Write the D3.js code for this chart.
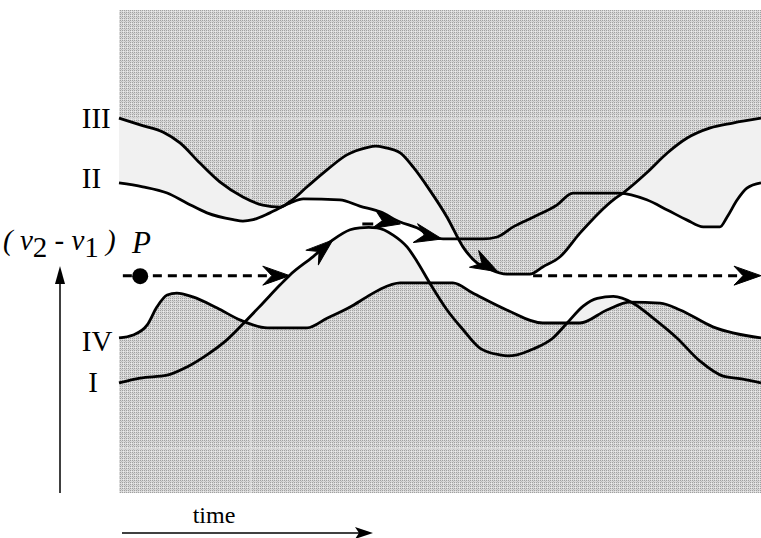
<html>
<head>
<script src="https://d3js.org/d3.v7.min.js"></script>
<style>
  body { margin: 0; background: white; }
  text { font-family: "Liberation Serif", "Times New Roman", serif; fill: black; }
</style>
</head>
<body>
<svg width="761" height="538"></svg>
<script>
// curves: t = time (0..100), v = (v2 - v1) level (0..100)
var t_III = [0,3.3,6.9,9.5,12.6,15.7,19.3,22.4,25.1,26.6,29.3,32.4,35.5,38.6,40.0,41.4,43.8,45.8,48.4,51.1,53.6,55.8,57.3,60.4,64.0,66.0,68.7,71.8,77.0,78.5,82.2,85.4,88.5,92.1,95.6,100];
var v_III = [77.6,76.2,74.7,72.5,68.3,64.4,61.3,59.6,59.2,60.3,63.4,66.9,70.0,71.5,71.8,71.5,70.4,67.5,62.7,57.1,50.9,47.6,46.6,45.3,45.3,46.8,48.9,53.8,60.7,62.1,66.3,70.4,73.5,75.6,76.6,77.6];

var t_II = [0,3.7,7.5,10.6,13.7,17.8,19.3,20.9,23.5,26.6,28.7,34.4,37.5,40.7,43.8,46.4,48.9,50.5,56.7,58.9,61.4,64.5,68.2,70.7,78.0,82.2,85.4,88.5,91.0,93.6,94.7,96.3,97.8,100];
var v_II = [64.2,63.4,62.1,60.0,58.0,56.6,56.3,56.6,58.0,60.0,60.9,60.7,59.4,58.2,56.1,54.9,53.0,52.6,52.6,53.0,55.1,57.1,59.6,62.1,62.1,60.7,58.6,56.5,55.1,55.1,57.1,60.7,63.1,64.2];

var t_I = [0,3.3,7.5,10.6,13.7,16.8,19.6,22.4,25.1,26.6,30.2,33.3,36.0,37.5,38.9,40.2,42.7,44.9,46.4,48.4,51.1,53.6,56.2,59.3,60.6,62.0,64.5,67.6,69.8,72.3,74.5,77.0,80.1,83.2,86.9,90.5,94.1,97.2,100];
var v_I = [22.8,23.8,24.4,26.1,28.6,31.7,35.4,39.3,43.1,45.1,48.9,52.4,54.5,54.9,55.0,54.9,53.4,50.9,48.0,43.5,37.9,33.8,30.0,28.6,28.4,28.6,29.8,32.1,35.2,38.7,40.3,40.7,39.3,36.2,32.1,27.3,24.2,23.6,22.8];

var t_IV = [0,2.2,4.4,5.9,7.5,9.0,11.5,15.3,18.9,23.1,29.3,32.4,36.0,38.6,40.7,43.8,52.0,55.1,60.4,66.0,71.8,76.0,79.6,84.3,87.4,92.5,100];
var v_IV = [32.1,32.7,34.8,38.5,41.0,41.4,40.6,38.3,35.8,34.2,34.2,36.2,38.5,40.6,42.2,43.5,43.5,41.4,37.9,35.2,35.2,37.9,39.5,39.3,37.9,34.4,32.1];

var curveNames = ["III", "II", "IV", "I"];
var labelV = [75.6, 63.2, 29.4, 20.9];
var labelT = [-5.8, -5.8, -5.8, -4.8];

// trajectory of P: dashed runs, dashes and arrow heads (tip and a point behind it)
var dashRuns = [[0.6, 26.6, 45.0], [64.5, 100, 45.0]];
var shortDash = [[37.9, 39.6, 55.7]];
var pointP = [3.3, 44.9];
var arrowTip = [[26.6,45.0],[33.3,52.4],[43.8,55.7],[50.3,52.6],[59.0,45.8],[100,45.0]];
var arrowBack = [[20.0,45.0],[30.2,48.9],[40.5,56.5],[46.9,53.6],[55.0,48.7],[95.0,45.0]];

var svg = d3.select("svg");
var x = d3.scaleLinear().domain([0,100]).range([119,761]);
var y = d3.scaleLinear().domain([0,100]).range([493,10]);

function pts(t, v) { return t.map(function(d, i) { return [d, v[i]]; }); }
var data = { III: pts(t_III, v_III), II: pts(t_II, v_II), I: pts(t_I, v_I), IV: pts(t_IV, v_IV) };

var line = d3.line().x(d => x(d[0])).y(d => y(d[1])).curve(d3.curveMonotoneX);
var below = d3.area().x(d => x(d[0])).y0(y(0)).y1(d => y(d[1])).curve(d3.curveMonotoneX);
var above = d3.area().x(d => x(d[0])).y0(y(100)).y1(d => y(d[1])).curve(d3.curveMonotoneX);

var defs = svg.append("defs");
var pat = defs.append("pattern").attr("id","tex").attr("width",4).attr("height",4)
  .attr("patternUnits","userSpaceOnUse");
pat.append("rect").attr("width",4).attr("height",4).attr("fill","#d8d8d8");
[[0,0],[2,0],[0,2],[2,2]].forEach(function(p) {
  pat.append("rect").attr("x",p[0]).attr("y",p[1]).attr("width",1).attr("height",1).attr("fill","#a0a0a0");
});
pat.append("rect").attr("x",1).attr("y",1).attr("width",1).attr("height",1).attr("fill","#bcbcbc");
pat.append("rect").attr("x",3).attr("y",3).attr("width",1).attr("height",1).attr("fill","#eeeeee");

defs.append("clipPath").attr("id","belowIII").append("path").attr("d", below(data.III));
defs.append("clipPath").attr("id","aboveIV").append("path").attr("d", above(data.IV));
defs.append("clipPath").attr("id","belowII").append("path").attr("d", below(data.II));

// textured background
svg.append("rect").attr("x",x(0)).attr("y",y(100)).attr("width",x(100)-x(0)).attr("height",y(0)-y(100))
  .attr("fill","url(#tex)");
// faint tile seams in the texture
var seams = svg.append("g").attr("stroke","#e2e2e2").attr("stroke-width",1).attr("opacity",0.7);
seams.append("line").attr("x1",x(0)).attr("x2",x(100)).attr("y1",118.5).attr("y2",118.5);
seams.append("line").attr("x1",x(0)).attr("x2",x(100)).attr("y1",448.5).attr("y2",448.5);
seams.append("line").attr("x1",250.5).attr("x2",250.5).attr("y1",118).attr("y2",y(0));

// light grey between the bounds, white in the channel
var g1 = svg.append("g").attr("clip-path","url(#belowIII)").append("g").attr("clip-path","url(#aboveIV)");
g1.append("rect").attr("x",x(0)).attr("y",y(100)).attr("width",x(100)-x(0)).attr("height",y(0)-y(100))
  .attr("fill","#f1f1f1");
g1.append("g").attr("clip-path","url(#belowII)").append("path").attr("d", above(data.I)).attr("fill","white");

// the four curves
curveNames.forEach(function(n) {
  svg.append("path").attr("d", line(data[n])).attr("fill","none")
    .attr("stroke","black").attr("stroke-width",2.8).attr("stroke-linejoin","round");
});

// labels
curveNames.forEach(function(n, i) {
  svg.append("text").attr("x", x(labelT[i])).attr("y", y(labelV[i]))
    .style("font-size","29px").text(n);
});

// trajectory
dashRuns.forEach(function(r) {
  svg.append("line").attr("x1",x(r[0])).attr("x2",x(r[1]) - 14).attr("y1",y(r[2])).attr("y2",y(r[2]))
    .attr("stroke","black").attr("stroke-width",3).attr("stroke-dasharray","9,6");
});
shortDash.forEach(function(r) {
  svg.append("line").attr("x1",x(r[0])).attr("x2",x(r[1])).attr("y1",y(r[2])).attr("y2",y(r[2]))
    .attr("stroke","black").attr("stroke-width",3);
});
arrowTip.forEach(function(tp, i) {
  var bx = x(arrowBack[i][0]), by = y(arrowBack[i][1]);
  var tx = x(tp[0]), ty = y(tp[1]);
  var ang = Math.atan2(ty - by, tx - bx) * 180 / Math.PI;
  svg.append("path").attr("d","M0,0L-27,-9.5L-18,0L-27,9.5Z").attr("fill","black")
    .attr("stroke","black").attr("stroke-width",1).attr("stroke-linejoin","round")
    .attr("transform","translate(" + tx + "," + ty + ")rotate(" + ang + ")");
});
svg.append("circle").attr("cx",x(pointP[0])).attr("cy",y(pointP[1])).attr("r",8).attr("fill","black");

svg.append("text").attr("x",132).attr("y",253).style("font-size","31px").style("font-style","italic").text("P");

// axis label (v2 - v1)
var yl = svg.append("text").attr("x",3).attr("y",250).style("font-size","29px");
yl.append("tspan").style("font-style","italic").text("( v");
yl.append("tspan").attr("dy",7).text("2");
yl.append("tspan").attr("dy",-7).text(" - ");
yl.append("tspan").style("font-style","italic").text("v");
yl.append("tspan").attr("dy",7).text("1");
yl.append("tspan").attr("dy",-7).style("font-style","italic").text(" )");

// axis arrows
svg.append("line").attr("x1",60).attr("x2",60).attr("y1",y(0)).attr("y2",278).attr("stroke","black").attr("stroke-width",1.5);
svg.append("path").attr("d","M60,266L55,284L65,284Z").attr("fill","black");
svg.append("line").attr("x1",122).attr("x2",360).attr("y1",533).attr("y2",533).attr("stroke","black").attr("stroke-width",1.5);
svg.append("path").attr("d","M373,533L355,527L359,533L355,539Z").attr("fill","black");
svg.append("text").attr("x",214).attr("y",523).attr("text-anchor","middle").style("font-size","24px").text("time");
</script>
</body>
</html>
